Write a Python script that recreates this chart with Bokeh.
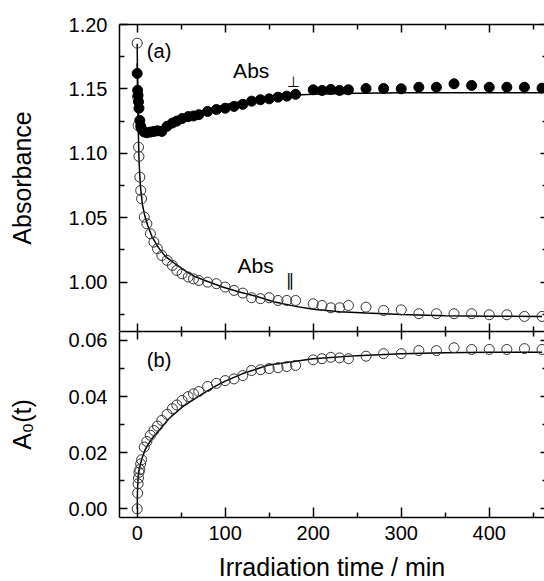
from bokeh.plotting import figure
from bokeh.layouts import column
from bokeh.models import LinearAxis, FixedTicker, NumeralTickFormatter, Range1d
from bokeh.core.properties import value
from bokeh.embed import file_html
from bokeh.resources import INLINE

FONT = "Liberation Sans"

# measurement times (min)
time_min = [0, 0.5, 1, 1.5, 2, 3, 4, 5, 8, 11, 15, 19, 23, 28, 34, 40, 45, 51, 58, 64,
            70, 80, 90, 100, 110, 120, 130, 140, 150, 160, 170, 180, 200, 210, 220, 230,
            240, 260, 280, 300, 320, 340, 360, 380, 400, 420, 440, 460]

# absorbance perpendicular (filled circles)
abs_perp = [1.162, 1.149, 1.145, 1.140, 1.135, 1.1255, 1.121, 1.119, 1.1165, 1.116, 1.1165,
            1.117, 1.1175, 1.117, 1.121, 1.1235, 1.125, 1.127, 1.1285, 1.129,
            1.130, 1.1325, 1.134, 1.135, 1.1364, 1.138, 1.1405, 1.1416, 1.1423, 1.1436,
            1.1444, 1.1458, 1.1493, 1.1488, 1.1496, 1.1488, 1.1493, 1.1503, 1.1503, 1.1501,
            1.1513, 1.1513, 1.1540, 1.1527, 1.1513, 1.1513, 1.1513, 1.1506]

# absorbance parallel (open circles)
abs_par = [1.1855, 1.1436, 1.1216, 1.1048, 1.0976, 1.0815, 1.0712, 1.0647, 1.0505, 1.0453,
           1.0376, 1.0311, 1.026, 1.0207, 1.0169, 1.013, 1.0091, 1.0065, 1.004, 1.0025,
           1.0013, 1.000, 0.9988, 0.9962, 0.9936, 0.9915, 0.9879, 0.9872, 0.9879, 0.9858,
           0.9858, 0.9858, 0.9832, 0.9819, 0.9801, 0.9801, 0.9819, 0.9806, 0.9780, 0.9785,
           0.9755, 0.9755, 0.9755, 0.9755, 0.9747, 0.9747, 0.9734, 0.9734]

# A0(t) (open circles, lower panel)
a0 = [0.000, 0.0056, 0.0089, 0.011, 0.013, 0.014, 0.016, 0.0175, 0.022, 0.024, 0.0262,
      0.0279, 0.0295, 0.0315, 0.0337, 0.0357, 0.037, 0.0386, 0.040, 0.041,
      0.0418, 0.0436, 0.0447, 0.0457, 0.0463, 0.0475, 0.0493, 0.0496, 0.0500, 0.0503,
      0.0507, 0.0511, 0.0531, 0.0535, 0.0540, 0.0538, 0.0535, 0.0544, 0.0553, 0.0553,
      0.0564, 0.0564, 0.0574, 0.0568, 0.0568, 0.0568, 0.0571, 0.0568]

# fitted curves
fit_perp_t = [0, 0.5, 1, 1.5, 2, 3, 4, 6, 10, 15, 20, 30, 40, 50, 60, 80, 100, 120, 140,
              160, 180, 200, 250, 300, 460]
fit_perp = [1.17, 1.152, 1.140, 1.130, 1.124, 1.117, 1.1145, 1.1138, 1.1145, 1.116, 1.118,
            1.1215, 1.1245, 1.1272, 1.1298, 1.1343, 1.1378, 1.1405, 1.1426, 1.1442, 1.1452,
            1.1459, 1.1467, 1.147, 1.147]

fit_par_t = [0, 0.5, 1, 2, 3, 4, 6, 9, 12, 17, 24, 32, 43, 55, 65, 80, 97, 115, 135, 155,
             180, 200, 230, 260, 300, 350, 400, 460]
fit_par = [1.185, 1.15, 1.125, 1.097, 1.082, 1.072, 1.060, 1.0505, 1.044, 1.035, 1.027,
           1.020, 1.0143, 1.0085, 1.0045, 1.0005, 0.9962, 0.9925, 0.989, 0.9848, 0.9812,
           0.979, 0.977, 0.976, 0.9748, 0.974, 0.9736, 0.9734]

fit_a0_t = [0, 0.3, 1, 2, 3, 4, 6, 9, 13, 18, 25, 36, 51, 70, 89, 100, 120, 150, 200, 250,
            300, 350, 400, 460]
fit_a0 = [0, 0.006, 0.011, 0.0135, 0.015, 0.0163, 0.0185, 0.021, 0.0232, 0.0255, 0.028,
          0.0321, 0.0362, 0.0402, 0.0437, 0.0455, 0.0482, 0.0513, 0.0535, 0.0546, 0.0553,
          0.0556, 0.0558, 0.0558]

x_major = [0, 100, 200, 300, 400]
x_minor = [50, 150, 250, 350, 450]
top_major = [1.00, 1.05, 1.10, 1.15, 1.20]
top_minor = [0.975, 1.025, 1.075, 1.125, 1.175]
bot_major = [0.00, 0.02, 0.04, 0.06]
bot_minor = [0.01, 0.03, 0.05]

X_RANGE = (-20.1, 462.8)
LEFT = 119
FRAME_W = 425


def style_axis(ax, ticks, minor, show_labels, line=True, tick_in=8, minor_in=5):
    ax.ticker = FixedTicker(ticks=ticks, minor_ticks=minor)
    ax.major_tick_in = tick_in
    ax.major_tick_out = 0
    ax.minor_tick_in = minor_in
    ax.minor_tick_out = 0
    ax.major_tick_line_color = "black"
    ax.minor_tick_line_color = "black"
    ax.major_tick_line_width = 1.5
    ax.minor_tick_line_width = 1.5
    ax.axis_line_color = "black" if line else None
    ax.axis_line_width = 1.5
    if show_labels:
        ax.major_label_text_font = FONT
        ax.major_label_text_font_size = "20px"
        ax.major_label_text_color = "black"
    else:
        # tick marks only: labels are not painted
        ax.major_label_text_font_size = "1px"
        ax.major_label_text_color = None
        ax.major_label_standoff = 0


def make_fig(y_range, frame_h, top_border, bottom_border):
    p = figure(frame_width=FRAME_W, frame_height=frame_h,
               x_range=Range1d(*X_RANGE), y_range=y_range,
               output_backend="svg", toolbar_location=None,
               min_border_left=LEFT, min_border_right=0,
               min_border_top=top_border, min_border_bottom=bottom_border,
               x_axis_location=None, y_axis_location=None)
    p.outline_line_color = None
    p.xgrid.visible = False
    p.ygrid.visible = False
    p.background_fill_color = "white"
    p.border_fill_color = "white"
    return p


def axis_title(ax, text, standoff):
    ax.axis_label = text
    ax.axis_label_text_font = FONT
    ax.axis_label_text_font_size = "25px"
    ax.axis_label_text_font_style = "normal"
    ax.axis_label_text_color = "black"
    ax.axis_label_standoff = standoff


# ---------- upper panel: absorbances ----------
top = make_fig(Range1d(0.9617, 1.20), 307, 24, 0)

ax = LinearAxis()
style_axis(ax, top_major, top_minor, True)
ax.formatter = NumeralTickFormatter(format="0.00")
ax.major_label_standoff = 12
axis_title(ax, "Absorbance", 30)
top.add_layout(ax, "left")

ax = LinearAxis()
style_axis(ax, top_major, top_minor, False, line=False, tick_in=4, minor_in=2)
top.add_layout(ax, "right")

for side in ("above", "below"):
    ax = LinearAxis()
    style_axis(ax, x_major, x_minor, False)
    top.add_layout(ax, side)

top.line(fit_par_t, fit_par, line_color="black", line_width=1.5)
top.line(fit_perp_t, fit_perp, line_color="black", line_width=1.5)
top.scatter(time_min, abs_par, size=10, fill_color="white", fill_alpha=0,
            line_color="#333333", line_width=1)
top.scatter(time_min, abs_perp, size=10, fill_color="black", line_color="black")

text_kw = dict(text_color="black", text_baseline="middle", text_align="left")
top.text(x=[11], y=[1.1794], text=["(a)"], text_font=value(FONT),
         text_font_size="20px", **text_kw)
top.text(x=[109], y=[1.1643], text=["Abs"], text_font=value(FONT),
         text_font_size="21px", **text_kw)
top.text(x=[170], y=[1.1555], text=["\u22a5"], text_font=value("DejaVu Sans"),
         text_font_size="15px", **text_kw)
top.text(x=[114], y=[1.0126], text=["Abs"], text_font=value(FONT),
         text_font_size="21px", **text_kw)
top.text(x=[169], y=[1.0013], text=["\u2225"], text_font=value("DejaVu Sans"),
         text_font_size="17px", **text_kw)

# ---------- lower panel: A0(t) ----------
bot = make_fig(Range1d(-0.0031, 0.0632), 186, 0, 64)

ax = LinearAxis()
style_axis(ax, bot_major, bot_minor, True)
ax.formatter = NumeralTickFormatter(format="0.00")
ax.major_label_standoff = 12
axis_title(ax, "A\u2080(t)", 30)
bot.add_layout(ax, "left")

ax = LinearAxis()
style_axis(ax, bot_major, bot_minor, False, line=False, tick_in=4, minor_in=2)
bot.add_layout(ax, "right")

ax = LinearAxis()
style_axis(ax, x_major, x_minor, False)
bot.add_layout(ax, "above")

ax = LinearAxis()
style_axis(ax, x_major, x_minor, True, tick_in=10)
ax.major_label_standoff = 8
axis_title(ax, "Irradiation time / min", 10)
bot.add_layout(ax, "below")

bot.line(fit_a0_t, fit_a0, line_color="black", line_width=1.5)
bot.scatter(time_min, a0, size=10, fill_color="white", fill_alpha=0,
            line_color="#333333", line_width=1)
bot.text(x=[11], y=[0.0529], text=["(b)"], text_font=value(FONT),
         text_font_size="20px", **text_kw)

layout = column(top, bot, spacing=0)
open("out.html", "w").write(file_html(layout, INLINE))
